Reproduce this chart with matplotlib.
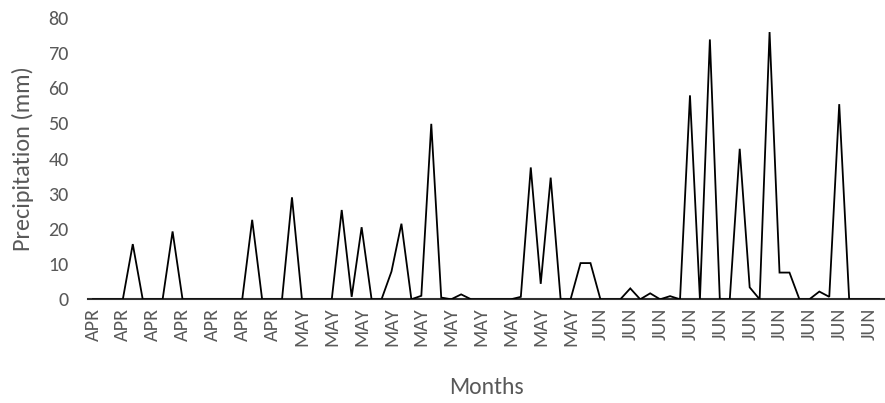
import matplotlib
matplotlib.use("Agg")
import matplotlib.pyplot as plt
import numpy as np

months = ["APR"] * 21 + ["MAY"] * 30 + ["JUN"] * 29
precip = [0, 0, 0, 0, 15.7, 0, 0, 0, 19.3, 0,
          0, 0, 0, 0, 0, 0, 22.6, 0, 0, 0,
          29.0, 0, 0, 0, 0, 25.4, 0.7, 20.5, 0, 0,
          7.9, 21.5, 0, 1.0, 49.9, 0.5, 0, 1.4, 0, 0,
          0, 0, 0, 0.7, 37.5, 4.4, 34.6, 0, 0, 10.3,
          10.3, 0, 0, 0, 3.1, 0, 1.7, 0, 0.9, 0,
          58.0, 0, 73.9, 0, 0, 42.8, 3.4, 0, 76.0, 7.6,
          7.6, 0, 0, 2.2, 0.7, 55.5, 0, 0, 0, 0]
yticks = [0, 10, 20, 30, 40, 50, 60, 70, 80]

plt.rcParams['font.family'] = ['Carlito', 'Lato', 'DejaVu Sans']
gray = "#595959"

fig = plt.figure(figsize=(8.85, 4.03), dpi=100)
ax = fig.add_axes([88/885, 1-299.3/403, (884-88)/885, (299.3-18)/403])

x = np.arange(len(precip))
ax.plot(x, precip, color="black", lw=1.3, zorder=3, solid_joinstyle="miter")

ax.set_xlim(-0.5, len(precip) - 0.5)
ax.set_ylim(0, 80)
ax.set_yticks(yticks)
ax.set_yticklabels([str(t) for t in yticks], fontsize=14.5, color=gray)
tick_idx = list(range(0, len(months), 3))
ax.set_xticks(tick_idx)
ax.set_xticklabels([months[i] for i in tick_idx], rotation=90, fontsize=14.5, color=gray)
ax.tick_params(axis="both", length=0)
ax.tick_params(axis="y", pad=14)
ax.tick_params(axis="x", pad=6)

for s in ["top", "right", "left"]:
    ax.spines[s].set_visible(False)
ax.spines["bottom"].set_color("#303030")
ax.spines["bottom"].set_linewidth(1.5)

ax.set_ylabel("Precipitation (mm)", fontsize=17.5, color=gray, labelpad=10)
ax.set_xlabel("Months", fontsize=17, color=gray, labelpad=22)

fig.savefig("out.png", dpi=100)
